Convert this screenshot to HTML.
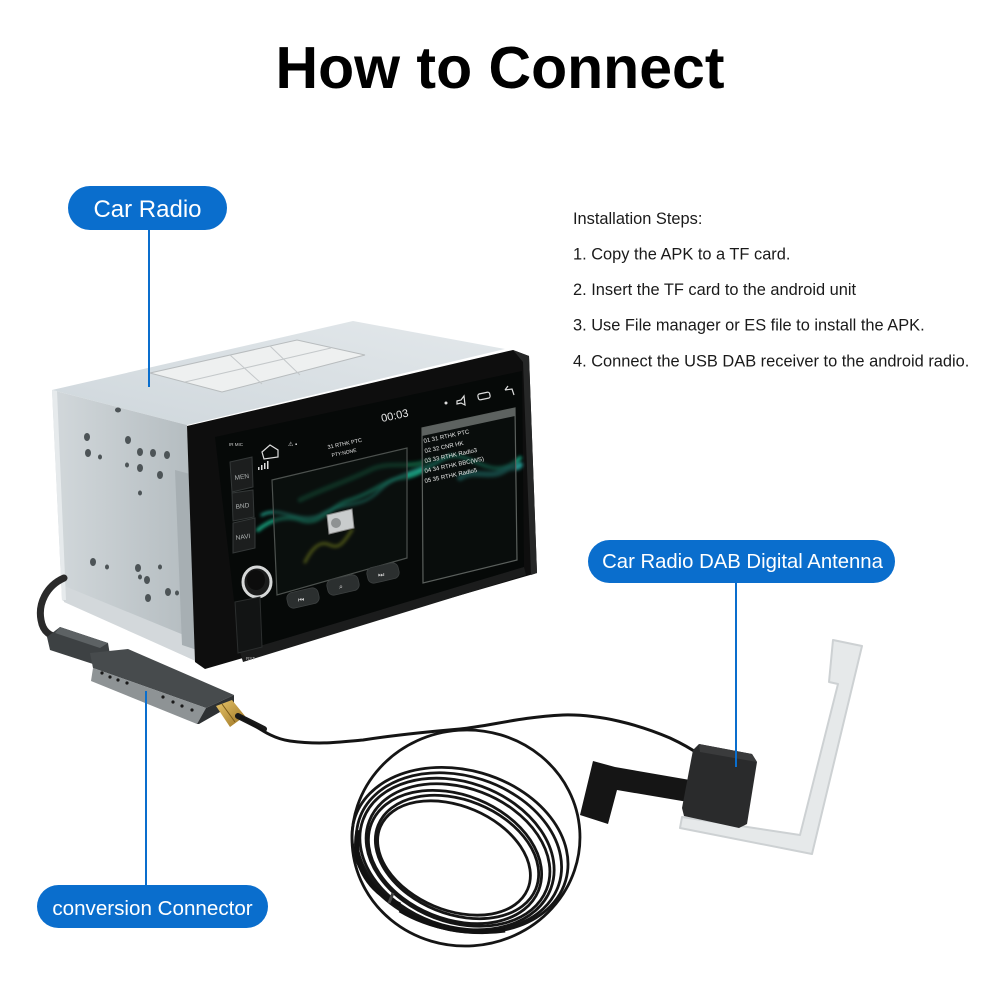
<!DOCTYPE html>
<html><head><meta charset="utf-8">
<style>
html,body{margin:0;padding:0;background:#fff;}
body{width:1000px;height:1000px;position:relative;overflow:hidden;}
svg{position:absolute;left:0;top:0;}
text{font-family:"Liberation Sans",sans-serif;}
</style></head>
<body>
<svg width="1000" height="1000" viewBox="0 0 1000 1000">
<defs>
<linearGradient id="side" x1="0" y1="0" x2="1" y2="0">
<stop offset="0" stop-color="#d2d8db"/><stop offset="1" stop-color="#b3bbbf"/>
</linearGradient>
<linearGradient id="top" x1="0" y1="1" x2="1" y2="0">
<stop offset="0" stop-color="#cfd7dc"/><stop offset="1" stop-color="#e3e8eb"/>
</linearGradient>
<linearGradient id="gold" x1="0" y1="0" x2="1" y2="1">
<stop offset="0" stop-color="#e8c56a"/><stop offset="1" stop-color="#9b7322"/>
</linearGradient>
<filter id="blur" x="-20%" y="-20%" width="140%" height="140%"><feGaussianBlur stdDeviation="1.6"/></filter>
</defs>

<!-- Title -->
<text x="500" y="88" text-anchor="middle" font-size="59" font-weight="bold" fill="#000">How to Connect</text>

<!-- Installation steps -->
<g font-size="16.4" fill="#1a1a1a">
<text x="573" y="224">Installation Steps:</text>
<text x="573" y="259.5">1. Copy the APK to a TF card.</text>
<text x="573" y="295">2. Insert the TF card to the android unit</text>
<text x="573" y="330.5">3. Use File manager or ES file to install the APK.</text>
<text x="573" y="366.5">4. Connect the USB DAB receiver to the android radio.</text>
</g>

<!-- ===== Car radio ===== -->
<!-- top face -->
<polygon points="52,390 353,321 505,349 187,425" fill="url(#top)"/>
<!-- sticker -->
<polygon points="150,373 297,340 365,355 222,392" fill="#eef0f0" stroke="#b8bcbe" stroke-width="1"/>
<line x1="185" y1="382" x2="331" y2="348" stroke="#c4c8ca" stroke-width="1"/>
<line x1="230" y1="355" x2="262" y2="384" stroke="#c4c8ca" stroke-width="1"/>
<line x1="270" y1="346" x2="300" y2="375" stroke="#c4c8ca" stroke-width="1"/>
<!-- side face -->
<polygon points="52,390 187,425 198,662 62,600" fill="url(#side)"/>
<polygon points="62,585 196,640 198,662 64,602" fill="#d3d8db"/>
<polygon points="52,390 57,391 66,600 62,600" fill="#e6eaec"/>
<polygon points="175,470 190,474 197,650 182,645" fill="#a7afb3"/>
<g fill="#4d5457">
<ellipse cx="87" cy="437" rx="3" ry="4"/><ellipse cx="88" cy="453" rx="3" ry="4"/>
<ellipse cx="100" cy="457" rx="2" ry="2.5"/><ellipse cx="128" cy="440" rx="3" ry="4"/>
<ellipse cx="140" cy="452" rx="3" ry="4"/><ellipse cx="140" cy="468" rx="3" ry="4"/>
<ellipse cx="153" cy="453" rx="3" ry="4"/><ellipse cx="167" cy="455" rx="3" ry="4"/>
<ellipse cx="127" cy="465" rx="2" ry="2.5"/><ellipse cx="160" cy="475" rx="3" ry="4"/>
<ellipse cx="140" cy="493" rx="2" ry="2.5"/><ellipse cx="93" cy="562" rx="3" ry="4"/>
<ellipse cx="107" cy="567" rx="2" ry="2.5"/><ellipse cx="138" cy="568" rx="3" ry="4"/>
<ellipse cx="147" cy="580" rx="3" ry="4"/><ellipse cx="160" cy="567" rx="2" ry="2.5"/>
<ellipse cx="168" cy="592" rx="3" ry="4"/><ellipse cx="148" cy="598" rx="3" ry="4"/>
<ellipse cx="140" cy="577" rx="2" ry="2.5"/><ellipse cx="177" cy="593" rx="2" ry="2.5"/>
<ellipse cx="118" cy="410" rx="3" ry="2.5"/>
</g>
<!-- bezel -->
<polygon points="187,426 513,350 529,356 537,573 205,669 195,662" fill="#0e0e0e"/>
<polygon points="513,350 529,356 537,573 531,575 523,362" fill="#262727"/>
<!-- screen -->
<polygon points="215,437 522,371 524,567 240,652" fill="#060908"/>
<polygon points="240,652 524,567 526,575 243,662" fill="#1b1c1c"/>
<!-- waves -->
<g filter="url(#blur)" fill="none" stroke-linecap="round">
<path d="M258,530 C270,520 285,515 300,520 C320,528 330,505 350,500 C375,492 385,480 400,478 C420,476 430,465 445,458 C465,450 480,470 500,468 C510,467 515,462 520,458" stroke="#19c49a" stroke-width="4" opacity="0.75"/>
<path d="M262,515 C280,505 300,525 320,515 C345,500 360,510 380,490 C400,470 430,470 450,455" stroke="#2be3c4" stroke-width="3" opacity="0.6"/>
<path d="M300,500 C320,490 350,480 370,470 C390,460 410,470 430,460" stroke="#0f8f5f" stroke-width="5" opacity="0.55"/>
<path d="M305,562 C312,548 320,540 330,545 C340,550 345,540 352,530" stroke="#b7c420" stroke-width="3" opacity="0.8"/>
<path d="M460,478 C475,468 490,480 505,470 C512,465 516,470 520,465" stroke="#2fc7c0" stroke-width="6" opacity="0.7"/>
</g>
<!-- media panel -->
<polygon points="272,480 407,448 407,558 277,595" fill="#0f1412" fill-opacity="0.55" stroke="#4c514e" stroke-width="1.2"/>
<!-- list panel -->
<polygon points="422,428 515,408 517,560 423,583" fill="#0c100f" fill-opacity="0.6" stroke="#5a5f5c" stroke-width="1.2"/>
<polygon points="422,428 515,408 515,416 422,436" fill="#5d6260"/>
<!-- radio icon -->
<polygon points="327,515 352,509 354,528 329,534" fill="#c9cccd" stroke="#888" stroke-width="1"/>
<ellipse cx="336" cy="523" rx="5" ry="5" fill="#8e9293"/>
<!-- screen text -->
<g fill="#e8e8e8">
<text x="382" y="422" font-size="11" transform="rotate(-12 382 422)">00:03</text>
<text x="328" y="449" font-size="5.5" transform="rotate(-12 328 449)">31 RTHK PTC</text>
<text x="332" y="457" font-size="5" transform="rotate(-12 332 457)">PTY:NONE</text>
<text x="424" y="443" font-size="6" transform="rotate(-12 424 443)">01  31 RTHK PTC</text>
<text x="425" y="453" font-size="6" transform="rotate(-12 425 453)">02  32 CNR HK</text>
<text x="425" y="463" font-size="6" transform="rotate(-12 425 463)">03  33 RTHK Radio3</text>
<text x="425" y="473" font-size="6" transform="rotate(-12 425 473)">04  34 RTHK BBC(WS)</text>
<text x="425" y="483" font-size="6" transform="rotate(-12 425 483)">05  35 RTHK Radio5</text>
</g>
<!-- status icons -->
<g stroke="#ddd" stroke-width="1.2" fill="none">
<path d="M262,452 L270,445 L278,450 L278,457 L264,459 Z"/>
<rect x="478" y="393" width="12" height="6" rx="2" transform="rotate(-12 484 396)"/>
<path d="M505,390 L512,389 L514,395 M505,390 L508,386"/>
<path d="M457,401 L461,400 L464,396 L465,405 L461,403 L457,404 Z"/>
</g>
<circle cx="446" cy="403" r="1.5" fill="#ddd"/>
<g fill="#ddd"><rect x="258" y="467" width="1.5" height="3"/><rect x="261" y="465" width="1.5" height="5"/><rect x="264" y="463" width="1.5" height="6"/><rect x="267" y="461" width="1.5" height="8"/></g>
<text x="288" y="446" font-size="6" fill="#ddd">⚠ ▪</text>
<!-- side buttons -->
<g fill="#1c1e1e" stroke="#343838" stroke-width="1">
<polygon points="230,462 252,457 253,487 232,492"/>
<polygon points="232,493 253,490 254,517 233,521"/>
<polygon points="233,523 255,518 255,548 233,553"/>
</g>
<g fill="#b0b4b4" font-size="6.5">
<text x="235" y="480" transform="rotate(-8 235 480)">MEN</text>
<text x="236" y="509" transform="rotate(-8 236 509)">BND</text>
<text x="236" y="540" transform="rotate(-8 236 540)">NAVI</text>
</g>
<text x="229" y="446" font-size="4.5" fill="#ccc">IR  MIC</text>
<!-- knob -->
<ellipse cx="257" cy="582" rx="14" ry="15" fill="#1a1b1b" stroke="#d6d8d8" stroke-width="3"/>
<ellipse cx="256" cy="580" rx="9" ry="10" fill="#0c0c0c"/>
<!-- RST slot -->
<polygon points="235,602 260,597 262,647 238,653" fill="#121414" stroke="#2b2e2e" stroke-width="1"/>
<text x="246" y="660" font-size="4.5" fill="#bbb">RST</text>
<!-- bottom control buttons -->
<g fill="#2b2f2f" stroke="#3c4040" stroke-width="0.8">
<rect x="287" y="590" width="32" height="16" rx="6" transform="rotate(-13 303 598)"/>
<rect x="327" y="577" width="32" height="16" rx="6" transform="rotate(-13 343 585)"/>
<rect x="367" y="565" width="32" height="16" rx="6" transform="rotate(-13 383 573)"/>
</g>
<g fill="#ccc" font-size="7">
<text x="298" y="602">⏮</text><text x="339" y="589">⌕</text><text x="378" y="577">⏭</text>
</g>

<!-- ===== Converter ===== -->
<path d="M64,578 C46,586 38,604 41,620 C43,632 50,636 58,637" fill="none" stroke="#2a2a2a" stroke-width="7" stroke-linecap="round"/>
<polygon points="47,637 60,627 108,643 110,655 93,664 50,650" fill="#3d4143"/>
<polygon points="60,627 108,643 100,648 55,633" fill="#5d6264"/>
<polygon points="90,653 128,649 234,695 206,708 93,668" fill="#474b4d"/>
<polygon points="93,668 206,708 197,724 91,681" fill="#8e9395"/>
<polygon points="206,708 234,695 234,704 199,724 197,724" fill="#2e3133"/>
<g fill="#1a1a1a">
<circle cx="102" cy="673" r="1.6"/><circle cx="110" cy="677" r="1.6"/><circle cx="118" cy="680" r="1.6"/><circle cx="127" cy="683" r="1.6"/>
<circle cx="163" cy="697" r="1.6"/><circle cx="173" cy="702" r="1.6"/><circle cx="182" cy="706" r="1.6"/><circle cx="192" cy="710" r="1.6"/>
</g>
<polygon points="216,706 232,700 245,716 230,727" fill="url(#gold)"/>
<line x1="222" y1="704" x2="235" y2="722" stroke="#7a5a18" stroke-width="1"/>
<path d="M238,716 L264,729" stroke="#1a1a1a" stroke-width="6" stroke-linecap="round"/>

<!-- ===== Cable ===== -->
<path d="M240,717 C255,724 268,738 290,741 C320,745 340,742 363,740 C395,735 425,732 460,729 C490,726 520,717 563,715 C600,714 640,725 670,738 C685,745 693,750 700,755" fill="none" stroke="#141414" stroke-width="3"/>
<!-- coil -->
<g fill="none" stroke="#151515" stroke-width="2.8">
<ellipse cx="466" cy="838" rx="114" ry="108" transform="rotate(-4 466 838)"/>
<ellipse cx="460" cy="850" rx="110" ry="80" transform="rotate(16 460 850)"/>
<ellipse cx="459" cy="852" rx="105" ry="76" transform="rotate(18 459 852)"/>
<ellipse cx="457" cy="854" rx="100" ry="72" transform="rotate(20 457 854)"/>
<ellipse cx="458" cy="855" rx="95" ry="67" transform="rotate(21 458 855)"/>
<ellipse cx="455" cy="857" rx="90" ry="62" transform="rotate(22 455 857)"/>
<ellipse cx="457" cy="857" rx="85" ry="57" transform="rotate(22 457 857)"/>
<ellipse cx="454" cy="858" rx="80" ry="52" transform="rotate(23 454 858)"/>
</g>
<g fill="none" stroke="#111" stroke-width="5">
<path d="M358,830 C352,860 365,890 400,905" />
<path d="M400,910 C430,928 470,935 505,930"/>
</g>
<line x1="393" y1="893" x2="389" y2="903" stroke="#444" stroke-width="3"/>

<!-- ===== Antenna ===== -->
<polygon points="833,640 862,646 812,854 680,828 682,817 800,835 838,684 829,682" fill="#e6e9ea" stroke="#cdd1d3" stroke-width="2" stroke-linejoin="round"/>
<polygon points="593,761 615,767 690,780 688,802 617,790 608,824 580,815" fill="#151515"/>
<path d="M698,755 L704,752" stroke="#111" stroke-width="3"/>
<polygon points="699,744 752,754 757,762 747,824 739,828 684,816 682,808 693,750" fill="#2a2b2c"/>
<polygon points="699,744 752,754 757,762 700,752" fill="#3a3b3c"/>

<!-- ===== Labels ===== -->
<g stroke="#0a6ecd" stroke-width="2">
<line x1="149" y1="230" x2="149" y2="387"/>
<line x1="736" y1="583" x2="736" y2="767"/>
<line x1="146" y1="691" x2="146" y2="885"/>
</g>
<rect x="68" y="186" width="159" height="44" rx="22" fill="#0a6ecd"/>
<text x="147.5" y="217" text-anchor="middle" font-size="24" fill="#fff">Car Radio</text>
<rect x="588" y="540" width="307" height="43" rx="21.5" fill="#0a6ecd"/>
<text x="742.5" y="568" text-anchor="middle" font-size="20.3" fill="#fff">Car Radio DAB Digital Antenna</text>
<rect x="37" y="885" width="231" height="43" rx="21.5" fill="#0a6ecd"/>
<text x="152.5" y="915" text-anchor="middle" font-size="20.6" fill="#fff">conversion Connector</text>
</svg>
</body></html>
